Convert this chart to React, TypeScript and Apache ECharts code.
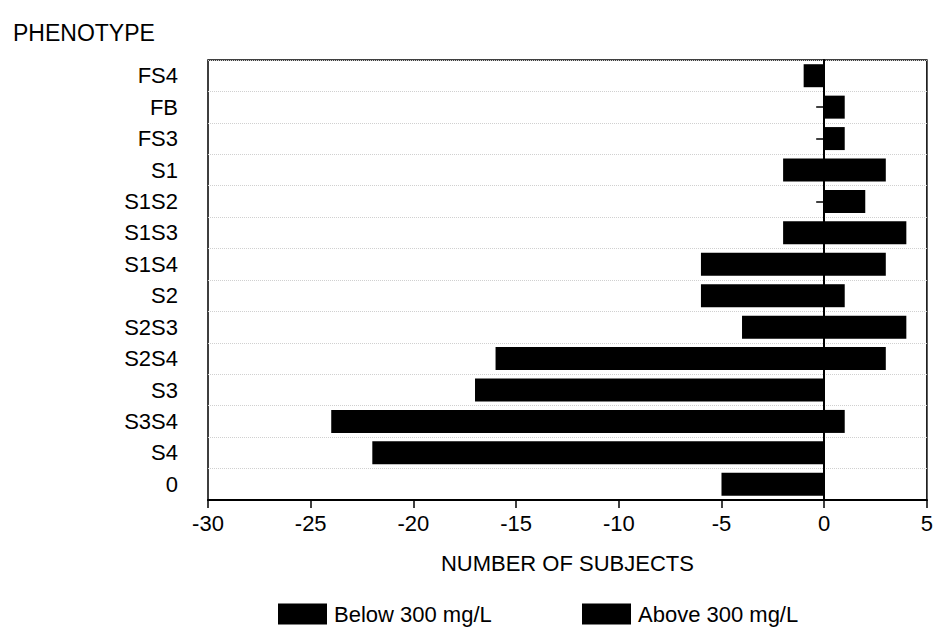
import React, { useEffect, useRef } from "react";
import * as echarts from "echarts";

const categories = ["0", "S4", "S3S4", "S3", "S2S4", "S2S3", "S2", "S1S4", "S1S3", "S1S2", "S1", "FS3", "FB", "FS4"];
const belowValues = [-5, -22, -24, -17, -16, -4, -6, -6, -2, 0, -2, 0, 0, -1];
const aboveValues = [0, 0, 1, 0, 3, 4, 1, 3, 4, 2, 3, 1, 1, 0];
const seriesNames = ["Below 300 mg/L", "Above 300 mg/L"];
const xTicks = { min: -30, max: 5, interval: 5 };

const FONT = "Liberation Sans";

// only nonzero counts become bars, as [value, category] pairs
const toBarData = (arr: number[]) =>
  arr.map((v, i) => [v, categories[i]]).filter((d) => d[0] !== 0);

// split line colours per x tick: only the zero line is drawn
const xTickValues: number[] = [];
for (let v = xTicks.min; v <= xTicks.max; v += xTicks.interval) xTickValues.push(v);
const zeroLineColors = xTickValues.map((v) => (v === 0 ? "#000" : "rgba(0,0,0,0)"));

export default function App() {
  const ref = useRef<HTMLDivElement>(null);
  useEffect(() => {
    if (!ref.current) return;
    const chart = echarts.init(ref.current, undefined, { renderer: "svg" });
    const legendBase = {
      top: 598,
      icon: "rect",
      itemWidth: 49,
      itemHeight: 21,
      textStyle: { fontFamily: FONT, fontSize: 22, color: "#000", padding: [0, 0, 0, 2] },
    };
    chart.setOption({
      animation: false,
      backgroundColor: "#fff",
      textStyle: { fontFamily: FONT, color: "#000" },
      title: {
        text: "PHENOTYPE",
        left: 8,
        top: 16,
        textStyle: { fontFamily: FONT, fontSize: 23, fontWeight: "normal", color: "#000" },
      },
      grid: {
        left: 208,
        right: 4,
        top: 60,
        bottom: 130,
        show: true,
        borderColor: "#000",
        borderWidth: 1.5,
        backgroundColor: "transparent",
      },
      legend: [
        { ...legendBase, data: [seriesNames[0]], left: 273 },
        { ...legendBase, data: [seriesNames[1]], left: 577 },
      ],
      xAxis: {
        type: "value",
        min: xTicks.min,
        max: xTicks.max,
        interval: xTicks.interval,
        name: "NUMBER OF SUBJECTS",
        nameLocation: "middle",
        nameGap: 52,
        nameTextStyle: { fontFamily: FONT, fontSize: 22, color: "#000" },
        axisLine: { show: true, onZero: false, lineStyle: { color: "#000", width: 2 } },
        axisTick: { show: true, length: 8, lineStyle: { color: "#000", width: 1.5 } },
        axisLabel: { fontFamily: FONT, fontSize: 22, color: "#000", margin: 12 },
        splitLine: { show: true, lineStyle: { color: zeroLineColors, width: 1.5, type: "solid" } },
      },
      yAxis: {
        type: "category",
        data: categories,
        axisLine: { show: true, lineStyle: { color: "#000", width: 2 } },
        axisTick: { show: true, alignWithLabel: true, length: 8, lineStyle: { color: "#000", width: 1.5 } },
        axisLabel: { fontFamily: FONT, fontSize: 22, color: "#000", margin: 30 },
        splitLine: { show: true, lineStyle: { color: "#d0d0d0", type: "dotted", width: 1 } },
      },
      series: [
        {
          name: seriesNames[0],
          type: "bar",
          data: toBarData(belowValues),
          barWidth: 23,
          barGap: "-100%",
          itemStyle: { color: "#000" },
        },
        {
          name: seriesNames[1],
          type: "bar",
          data: toBarData(aboveValues),
          barWidth: 23,
          barGap: "-100%",
          itemStyle: { color: "#000" },
        },
      ],
    });
    return () => chart.dispose();
  }, []);
  return <div ref={ref} style={{ width: 936, height: 630, position: "absolute", left: 0, top: 0 }} />;
}
